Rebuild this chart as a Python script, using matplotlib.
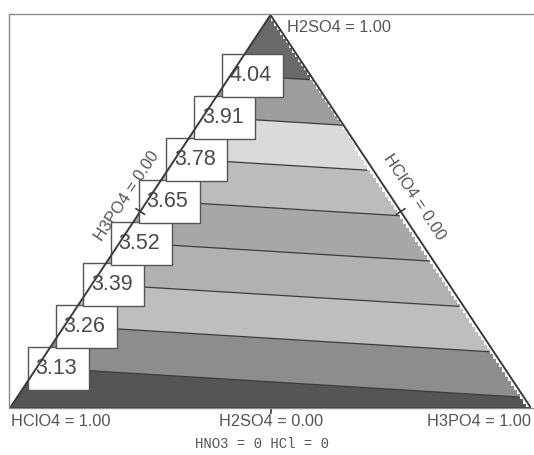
import numpy as np
import matplotlib.pyplot as plt
from matplotlib.colors import ListedColormap, BoundaryNorm
from matplotlib.patches import Polygon, Rectangle

# response at the three pure-component corners (linear mixture blend)
corner_names = ['HClO4', 'H3PO4', 'H2SO4']
corner_values = [3.004, 3.0995, 4.226]

levels = [3.13, 3.26, 3.39, 3.52, 3.65, 3.78, 3.91, 4.04]
band_colors = ['#555555', '#8d8d8d', '#bebebe', '#b1b1b1', '#a7a7a7',
               '#bcbcbc', '#dadada', '#9d9d9d', '#6a6a6a']

edge_labels = ['H3PO4 = 0.00', 'HClO4 = 0.00']
corner_labels = ['HClO4 = 1.00', 'H2SO4 = 0.00', 'H3PO4 = 1.00', 'H2SO4 = 1.00']
footer = 'HNO3 = 0 HCl = 0'

plt.rcParams['font.family'] = ['Liberation Sans', 'DejaVu Sans']

fig = plt.figure(figsize=(5.34, 4.55), dpi=100)
ax = fig.add_axes([10 / 534, 47 / 455, 521 / 534, 393 / 455])
ax.axis('off')
px, py = 1 / 521, 1 / 393   # one pixel in data units

# outer frame (right side runs off the picture)
fig.patches.append(Rectangle((9 / 534, 47 / 455), 530 / 534, 394 / 455, fill=False,
                             ec='#8a8a8a', lw=1.0, transform=fig.transFigure))

# pixel grid; right edge is stepped in 3x4.5 px blocks like the original
xf = (np.arange(521) + 0.5) * px
yf = (np.arange(393) + 0.5) * py
X, Y = np.meshgrid(xf, yf)
C = Y
B = X - Y / 2
A = 1 - B - C
V = A * corner_values[0] + B * corner_values[1] + C * corner_values[2]
cell_right = (np.floor(X / (3 * px)) + 1) * 3 * px
cell_top = (np.floor(Y / (4.5 * py)) + 1) * 4.5 * py
keep = cell_right <= 1 - cell_top / 2 + 1e-9
Vm = np.ma.masked_where(~keep, V)

tri = Polygon([[0, 0], [1, 0], [0.5, 1]], closed=True, fill=False,
              ec='#3a3a3a', lw=1.4, zorder=6)
clip = Polygon([[0, 0], [1, 0], [0.5, 1]], closed=True, transform=ax.transData)

cmap = ListedColormap(band_colors)
cmap.set_bad((1, 1, 1, 0))
norm = BoundaryNorm([2.5] + levels + [4.5], cmap.N)
img = ax.imshow(Vm, cmap=cmap, norm=norm, origin='lower', interpolation='nearest',
                extent=[0, 1, 0, 1], aspect='auto', zorder=1)
img.set_clip_path(clip)

cs = ax.contour(X, Y, Vm, levels=levels, colors='#3c3c3c', linewidths=0.9, zorder=2)
cs.set_clip_path(clip)
ax.set_xlim(0, 1)
ax.set_ylim(0, 1)

# value boxes along the left edge
for lev in levels:
    c = (lev - corner_values[0]) / (corner_values[2] - corner_values[0])
    cx = c / 2 + 21.5 * px
    cy = c - 1 * py
    ax.add_patch(Rectangle((cx - 30.5 * px, cy - 21.5 * py), 61 * px, 43 * py,
                           fc='white', ec='#555555', lw=1.0, zorder=4))
    ax.text(cx - 2 * px, cy, f'{lev:.2f}', ha='center', va='center',
            fontsize=15.5, color='#4a4a4a', zorder=5)

ax.add_patch(tri)

# midpoint ticks
ax.plot([0.25 - 5 * px * 0.833, 0.25 + 5 * px * 0.833],
        [0.5 + 5 * py * 0.552, 0.5 - 5 * py * 0.552], color='#3a3a3a', lw=1.2, zorder=6)
ax.plot([0.75 - 5 * px * 0.833, 0.75 + 5 * px * 0.833],
        [0.5 - 5 * py * 0.552, 0.5 + 5 * py * 0.552], color='#3a3a3a', lw=1.2, zorder=6)
ax.plot([0.5, 0.5], [0, -5 * py], color='#3a3a3a', lw=1.2, zorder=6, clip_on=False)

tc = '#555555'
ax.text(0.002, -0.035, corner_labels[0], ha='left', va='center', fontsize=11.8, color=tc, clip_on=False)
ax.text(0.501, -0.035, corner_labels[1], ha='center', va='center', fontsize=11.8, color=tc, clip_on=False)
ax.text(1.0, -0.035, corner_labels[2], ha='right', va='center', fontsize=11.8, color=tc, clip_on=False)
ax.text(0.5317, 0.967, corner_labels[3], ha='left', va='center', fontsize=11.8, color=tc, clip_on=False)
ax.text(0.2246, 0.5394, edge_labels[0], ha='center', va='center', rotation=56.5,
        rotation_mode='anchor', fontsize=11.8, color=tc)
ax.text(0.7754, 0.5369, edge_labels[1], ha='center', va='center', rotation=-56.5,
        rotation_mode='anchor', fontsize=11.8, color=tc)
ax.text(0.4837, -0.0916, footer, ha='center', va='center', fontsize=10,
        family='Liberation Mono', color='#555555', clip_on=False)

plt.savefig('out.png', dpi=100)
